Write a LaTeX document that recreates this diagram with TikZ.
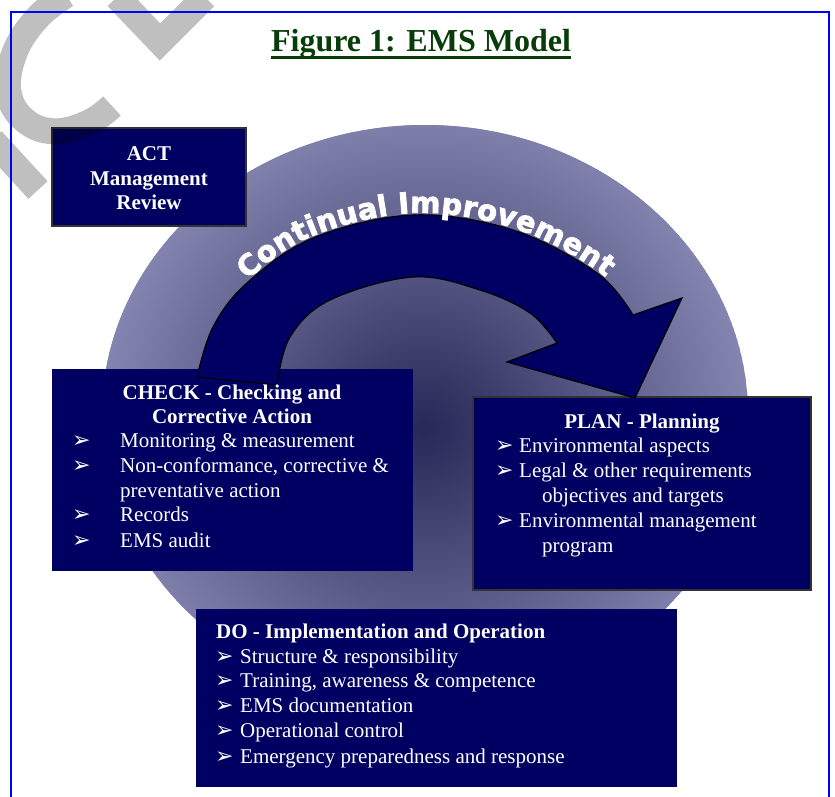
\documentclass[tikz,border=0pt]{standalone}
\usepackage{fontspec}
\setmainfont{Liberation Serif}
\newfontfamily\dvs{DejaVu Sans}
\newfontfamily\cifont{DejaVu Sans Bold}[FakeBold=2.5]
\usetikzlibrary{decorations.text,calc}
\definecolor{navy}{RGB}{0,0,98}
\definecolor{lav}{RGB}{134,134,178}
\definecolor{lavdark}{RGB}{40,40,88}
\definecolor{ttlgreen}{RGB}{8,60,8}
\definecolor{framebl}{RGB}{0,0,255}
\tikzset{
  box/.style={fill=navy, inner sep=0pt, outer sep=0pt},
  bordered/.style={box, draw=black!80, line width=1.3pt},
  ln/.style={anchor=base west, inner sep=0pt, text=white, font=\fontsize{21}{25}\selectfont},
  hdc/.style={anchor=base, inner sep=0pt, text=white, font=\bfseries\fontsize{21}{25}\selectfont},
  hdl/.style={hdc, anchor=base west},
  blt/.style={anchor=base west, inner sep=0pt, text=white, font=\dvs\fontsize{22}{22}\selectfont},
  wmark/.style={draw=black, draw opacity=0.25, line width=26pt},
}
\begin{document}
\begin{tikzpicture}[x=1pt, y=-1pt]
\useasboundingbox (0,0) rectangle (835,796);
\fill[white] (0,0) rectangle (835,796);

% title
\node[anchor=base, inner sep=0pt, text=ttlgreen, font=\bfseries\fontsize{32}{36}\selectfont] (title) at (421,51) {Figure 1: EMS Model};
\draw[ttlgreen, line width=3pt] ($(title.base west)+(0,6)$) -- ($(title.base east)+(0,6)$);

% big shaded disc
\begin{scope}
  \clip (425,415) ellipse [x radius=323pt, y radius=290pt];
  \fill[lav] (425,415) ellipse [x radius=323pt, y radius=290pt];
  \shade[inner color=lavdark, outer color=lav] (424,428) circle [radius=330pt];
\end{scope}

% boxes
\node[bordered, minimum width=194pt, minimum height=98pt] (act) at (149,177) {};
\node[box, minimum width=361pt, minimum height=202pt] (check) at (232.5,470) {};
\node[bordered, minimum width=338pt, minimum height=193pt] (plan) at (642,493.5) {};
\node[box, minimum width=481pt, minimum height=178pt] (do) at (436.5,698) {};

% curved arrow
\filldraw[fill=navy, draw=black, line width=1.2pt, line join=miter]
  plot[smooth, tension=0.6] coordinates {(197,377) (213,327) (247,283) (313,238) (413,215) (513,230) (597,273) (633,315)}
  -- (682,298) -- (635,398) -- (507,362)
  -- plot[smooth, tension=0.6] coordinates {(557,343) (530,313) (480,290) (413,277) (330,300) (290,337) (277,385)}
  -- cycle;

% curved label
\path[postaction={decorate}, decoration={text along path, raise=2pt,
  text align={fit to path, left indent=58pt, right indent=46pt},
  text={|\cifont\fontsize{29}{29}\selectfont\color{white}|Continual Improvement}}]
  plot[smooth, tension=0.6] coordinates {(213,327) (247,283) (313,238) (413,215) (513,230) (597,273) (633,315)};

% ACT text
\node[hdc] (act1) at (149,160) {ACT};
\node[hdc] (act2) at (149,185) {Management};
\node[hdc] (act3) at (149,209) {Review};

% CHECK text
\node[hdc] (ch1) at (232,399) {CHECK - Checking and};
\node[hdc] (ch2) at (232,423) {Corrective Action};
\node[blt] (cb1) at (72,447) {➢};
\node[ln] (ci1) at (120,447) {Monitoring \& measurement};
\node[blt] (cb2) at (72,472) {➢};
\node[ln] (ci2) at (120,472) {Non-conformance, corrective \&};
\node[ln] (ci3) at (120,497) {preventative action};
\node[blt] (cb4) at (72,521) {➢};
\node[ln] (ci4) at (120,521) {Records};
\node[blt] (cb5) at (72,547) {➢};
\node[ln] (ci5) at (120,547) {EMS audit};

% PLAN text
\node[hdc] (pl1) at (642,428) {PLAN - Planning};
\node[blt] (pb1) at (495,452) {➢};
\node[ln] (pi1) at (519,452) {Environmental aspects};
\node[blt] (pb2) at (495,477) {➢};
\node[ln] (pi2) at (519,477) {Legal \& other requirements};
\node[ln] (pi3) at (542,502) {objectives and targets};
\node[blt] (pb4) at (495,527) {➢};
\node[ln] (pi4) at (519,527) {Environmental management};
\node[ln] (pi5) at (542,552) {program};

% DO text
\node[hdl] (do1) at (216,638) {DO - Implementation and Operation};
\node[blt] (db1) at (215,663) {➢};
\node[ln] (di1) at (240,663) {Structure \& responsibility};
\node[blt] (db2) at (215,687) {➢};
\node[ln] (di2) at (240,687) {Training, awareness \& competence};
\node[blt] (db3) at (215,712) {➢};
\node[ln] (di3) at (240,712) {EMS documentation};
\node[blt] (db4) at (215,737) {➢};
\node[ln] (di4) at (240,737) {Operational control};
\node[blt] (db5) at (215,763) {➢};
\node[ln] (di5) at (240,763) {Emergency preparedness and response};

% watermark fragments
\draw[wmark, line join=miter] (117,-3) -- (160,42) -- (205,-3);
\draw[wmark] plot[smooth, tension=0.6] coordinates {(66,-5) (40,15) (18,45) (8,80) (14,108) (35,127) (62,131) (92,121) (112,106)};
\draw[wmark] (-8,140) -- (38,190);

% frame
\draw[framebl, line width=2pt] (11,820) -- (11,12) -- (829,12) -- (829,820);
\end{tikzpicture}
\end{document}
